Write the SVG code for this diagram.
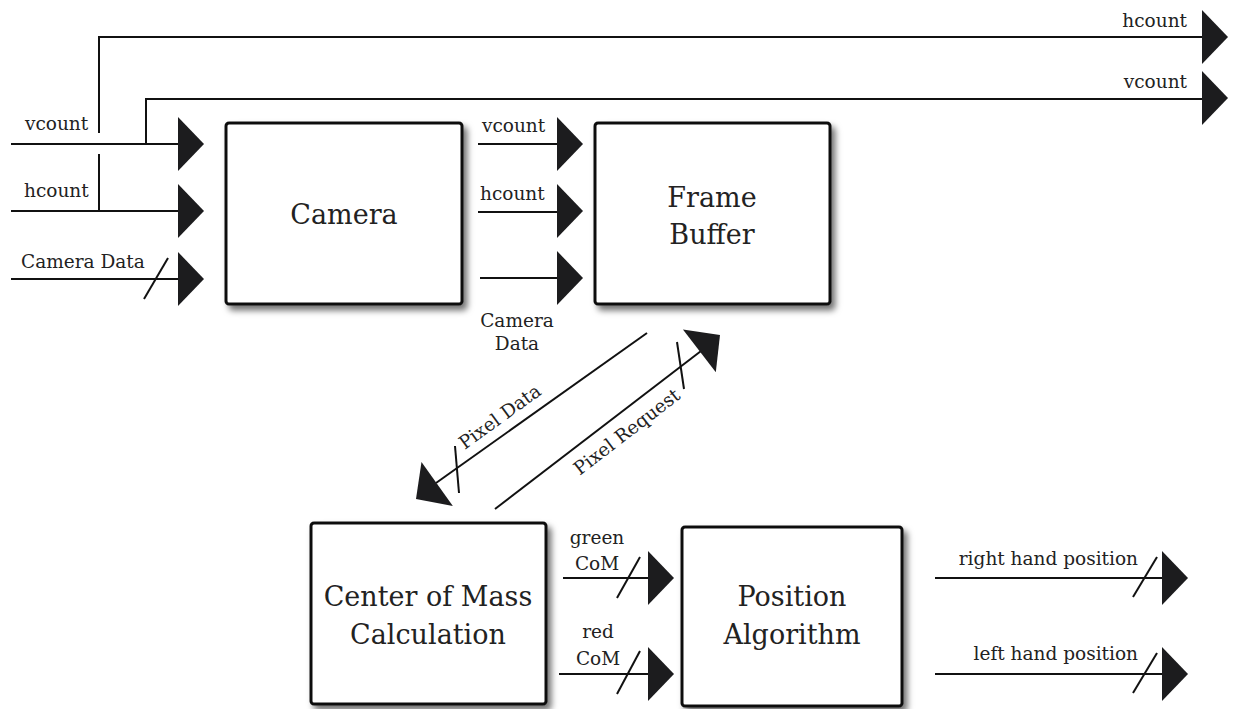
<svg xmlns="http://www.w3.org/2000/svg" xmlns:xlink="http://www.w3.org/1999/xlink" width="1239" height="709" viewBox="0 0 1239 709">
<style>
.box{fill:#fff;stroke:#111;stroke-width:3;filter:url(#sh)}
.nt{font-family:"DejaVu Serif",serif;font-size:27px;fill:#222;text-anchor:middle}
.lb{font-family:"DejaVu Serif",serif;font-size:18.5px;fill:#222}
.w{fill:none;stroke:#111;stroke-width:2}
.ah{fill:#1c1c1e}
</style>
<defs>
<filter id="sh" x="-10%" y="-10%" width="125%" height="125%">
<feDropShadow dx="4" dy="5" stdDeviation="3" flood-color="#000" flood-opacity="0.55"/>
</filter>
<path id="ah" d="M-26,-27 L0,0 L-26,27 Z"/>
</defs>
<rect width="1239" height="709" fill="#fff"/>

<g id="camera">
<rect class="box" x="226" y="123" width="236" height="181" rx="3"/>
<text class="nt" x="344" y="224">Camera</text>
</g>
<g id="frame-buffer">
<rect class="box" x="595" y="123" width="235" height="181" rx="3"/>
<text class="nt" x="712" y="207">Frame</text>
<text class="nt" x="712" y="244">Buffer</text>
</g>
<g id="center-of-mass">
<rect class="box" x="311" y="523" width="235" height="181" rx="3"/>
<text class="nt" x="428" y="606">Center of Mass</text>
<text class="nt" x="428" y="644">Calculation</text>
</g>
<g id="position-algorithm">
<rect class="box" x="682" y="527" width="220" height="179" rx="3"/>
<text class="nt" x="792" y="606">Position</text>
<text class="nt" x="792" y="644">Algorithm</text>
</g>

<g id="connectors">
<path class="w" d="M11,144 H180"/>
<path class="w" d="M11,211 H180"/>
<path class="w" d="M11,279 H180"/>
<path class="w" d="M144,299 L168,258"/>
<use href="#ah" class="ah" transform="translate(204,144)"/>
<use href="#ah" class="ah" transform="translate(204,211)"/>
<use href="#ah" class="ah" transform="translate(204,279)"/>
<path class="w" d="M99,211 V154"/>
<path class="w" d="M99,133 V37 H1204"/>
<path class="w" d="M146,144 V99 H1204"/>
<use href="#ah" class="ah" transform="translate(1228,37)"/>
<use href="#ah" class="ah" transform="translate(1228,98)"/>
<path class="w" d="M478,144 H559"/>
<path class="w" d="M478,212 H559"/>
<path class="w" d="M480,278 H559"/>
<use href="#ah" class="ah" transform="translate(583,144)"/>
<use href="#ah" class="ah" transform="translate(583,211)"/>
<use href="#ah" class="ah" transform="translate(583,278)"/>
<path class="w" d="M647,333 L436,483"/>
<use href="#ah" class="ah" transform="translate(416,499) rotate(144.5)"/>
<path class="w" d="M455,446 L459,493"/>
<path class="w" d="M495,509 L701,351"/>
<use href="#ah" class="ah" transform="translate(720,335) rotate(-37.5)"/>
<path class="w" d="M677,342 L684,389"/>
<path class="w" d="M563,578 H650"/>
<path class="w" d="M559,674 H650"/>
<path class="w" d="M617,598 L640,557"/>
<path class="w" d="M617,694 L640,651"/>
<use href="#ah" class="ah" transform="translate(674,578)"/>
<use href="#ah" class="ah" transform="translate(674,674)"/>
<path class="w" d="M935,578 H1164"/>
<path class="w" d="M935,674 H1164"/>
<path class="w" d="M1133,597 L1157,557"/>
<path class="w" d="M1133,693 L1157,653"/>
<use href="#ah" class="ah" transform="translate(1188,578)"/>
<use href="#ah" class="ah" transform="translate(1188,674)"/>
</g>

<g id="labels">
<text class="lb" x="25" y="130">vcount</text>
<text class="lb" x="24" y="197">hcount</text>
<text class="lb" x="21" y="268">Camera Data</text>
<text class="lb" x="1187" y="27" text-anchor="end">hcount</text>
<text class="lb" x="1187" y="88" text-anchor="end">vcount</text>
<text class="lb" x="482" y="132">vcount</text>
<text class="lb" x="480" y="200">hcount</text>
<text class="lb" x="517" y="327" text-anchor="middle">Camera</text>
<text class="lb" x="517" y="350" text-anchor="middle">Data</text>
<text class="lb" text-anchor="middle" transform="translate(500,417) rotate(-36)" y="6">Pixel Data</text>
<text class="lb" text-anchor="middle" transform="translate(627,432) rotate(-37.5)" y="6">Pixel Request</text>
<text class="lb" x="597" y="544" text-anchor="middle">green</text>
<text class="lb" x="597" y="570" text-anchor="middle">CoM</text>
<text class="lb" x="598" y="638" text-anchor="middle">red</text>
<text class="lb" x="598" y="665" text-anchor="middle">CoM</text>
<text class="lb" x="1138" y="565" text-anchor="end">right hand position</text>
<text class="lb" x="1138" y="660" text-anchor="end">left hand position</text>
</g>
</svg>
